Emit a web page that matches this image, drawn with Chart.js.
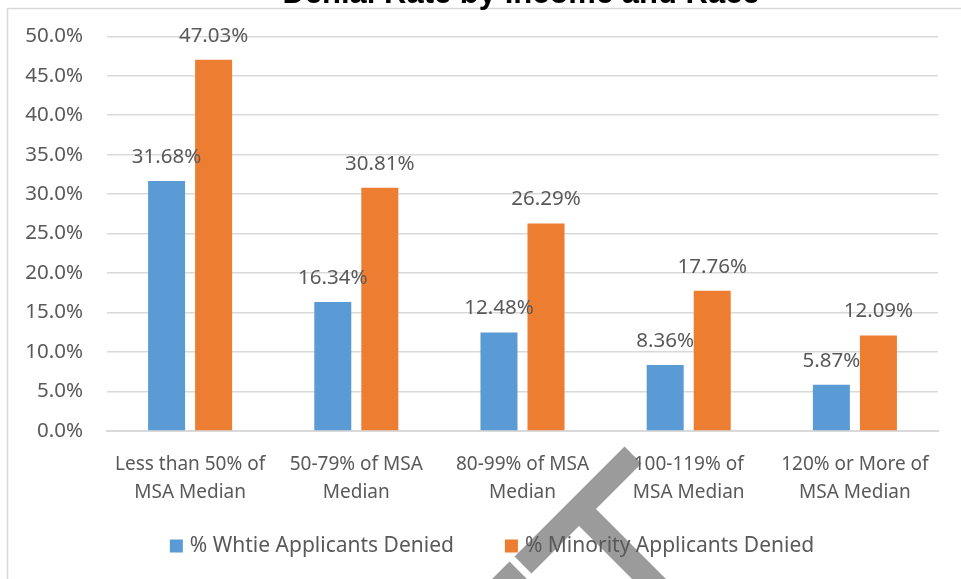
<!DOCTYPE html>
<html lang="en">
<head>
    <meta charset="UTF-8">
    <title>Denial Rate by Income and Race</title>
    <script src="https://cdn.jsdelivr.net/npm/chart.js"></script>
    <style>
        html, body { margin: 0; padding: 0; background: #fff; }
        #wrap { position: relative; width: 961px; height: 579px; }
    </style>
</head>
<body>
    <div id="wrap"><canvas id="denialChart"></canvas></div>
    <script>
        // income bands (two-line axis labels)
        const incomeBands = [
            ['Less than 50% of', 'MSA Median'],
            ['50-79% of MSA', 'Median'],
            ['80-99% of MSA', 'Median'],
            ['100-119% of', 'MSA Median'],
            ['120% or More of', 'MSA Median']
        ];
        // denial rates, percent
        const whiteDenied = [31.68, 16.34, 12.48, 8.36, 5.87];
        const minorityDenied = [47.03, 30.81, 26.29, 17.76, 12.09];
        const seriesNames = ['% Whtie Applicants Denied', '% Minority Applicants Denied'];
        const chartTitle = 'Denial Rate by Income and Race';

        const textColor = '#595959';
        const gridColor = '#d9d9d9';
        const fontFamily = '"Noto Sans", "Open Sans", sans-serif';

        // frame, cropped title and the grey mark behind the axis labels
        const backdrop = {
            id: 'backdrop',
            beforeDraw(chart) {
                const ctx = chart.ctx;
                ctx.save();
                ctx.strokeStyle = gridColor;
                ctx.lineWidth = 1.5;
                ctx.beginPath();
                ctx.moveTo(961, 8.5);
                ctx.lineTo(7.5, 8.5);
                ctx.lineTo(7.5, 579);
                ctx.stroke();

                ctx.strokeStyle = '#9b9b9b';
                ctx.lineWidth = 24;
                ctx.lineCap = 'butt';
                ctx.beginPath();
                ctx.moveTo(633, 455);
                ctx.lineTo(523, 565);
                ctx.moveTo(518, 570);
                ctx.lineTo(440, 648);
                ctx.moveTo(579, 509);
                ctx.lineTo(700, 630);
                ctx.stroke();

                ctx.fillStyle = '#000';
                ctx.font = 'bold 31px "Liberation Sans", Arial, sans-serif';
                ctx.textAlign = 'center';
                ctx.textBaseline = 'alphabetic';
                ctx.fillText(chartTitle, 521, 3);
                ctx.restore();
            }
        };

        // value labels above each bar
        const valueLabels = {
            id: 'valueLabels',
            afterDatasetsDraw(chart) {
                const ctx = chart.ctx;
                ctx.save();
                ctx.fillStyle = textColor;
                ctx.font = '20.5px ' + fontFamily;
                ctx.textAlign = 'center';
                ctx.textBaseline = 'middle';
                chart.data.datasets.forEach((ds, i) => {
                    chart.getDatasetMeta(i).data.forEach((bar, j) => {
                        ctx.fillText(ds.data[j].toFixed(2) + '%', bar.x, bar.y - 24);
                    });
                });
                ctx.restore();
            }
        };

        // legend row: square swatch + series name
        const legendRow = {
            id: 'legendRow',
            afterDraw(chart) {
                const ctx = chart.ctx;
                const box = 13, gap = 7, spacing = 51, cy = 546;
                ctx.save();
                ctx.font = '21px ' + fontFamily;
                ctx.textBaseline = 'middle';
                ctx.textAlign = 'left';
                const items = chart.data.datasets.map(ds => ({
                    text: ds.label,
                    color: ds.backgroundColor,
                    w: box + gap + ctx.measureText(ds.label).width
                }));
                const total = items.reduce((s, it) => s + it.w, 0) + spacing * (items.length - 1);
                let x = 492 - total / 2;
                items.forEach(it => {
                    ctx.fillStyle = it.color;
                    ctx.fillRect(x, cy - box / 2, box, box);
                    ctx.fillStyle = textColor;
                    ctx.fillText(it.text, x + box + gap, cy);
                    x += it.w + spacing;
                });
                ctx.restore();
            }
        };

        new Chart(document.getElementById('denialChart'), {
            type: 'bar',
            data: {
                labels: incomeBands,
                datasets: [
                    {
                        label: seriesNames[0],
                        data: whiteDenied,
                        backgroundColor: '#5b9bd5',
                        barPercentage: 0.787,
                        categoryPercentage: 0.566
                    },
                    {
                        label: seriesNames[1],
                        data: minorityDenied,
                        backgroundColor: '#ed7d31',
                        barPercentage: 0.787,
                        categoryPercentage: 0.566
                    }
                ]
            },
            options: {
                responsive: true,
                maintainAspectRatio: false,
                animation: false,
                layout: { padding: { top: 36, right: 23, bottom: 54, left: 0 } },
                plugins: {
                    legend: { display: false },
                    tooltip: { enabled: false }
                },
                scales: {
                    x: {
                        afterFit(scale) { scale.height = 94; },
                        grid: { display: false, drawTicks: false },
                        border: { color: gridColor, width: 2 },
                        ticks: {
                            color: textColor,
                            font: { family: fontFamily, size: 19, lineHeight: 1.47 },
                            padding: 20,
                            maxRotation: 0,
                            autoSkip: false
                        }
                    },
                    y: {
                        min: 0,
                        max: 50,
                        afterFit(scale) { scale.width = 107; },
                        grid: { color: gridColor, lineWidth: 1.5, drawTicks: false },
                        border: { display: false },
                        ticks: {
                            stepSize: 5,
                            color: textColor,
                            font: { family: fontFamily, size: 20.5 },
                            padding: 24,
                            callback: v => v.toFixed(1) + '%'
                        }
                    }
                }
            },
            plugins: [backdrop, valueLabels, legendRow]
        });
    </script>
</body>
</html>
